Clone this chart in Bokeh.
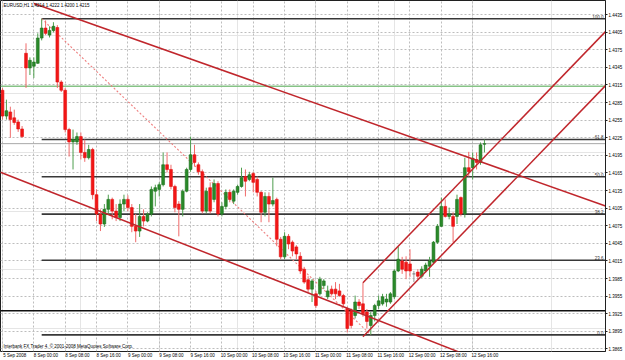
from bokeh.plotting import figure
from bokeh.models import Range1d, LinearAxis, FixedTicker, Grid, PrintfTickFormatter, Label
from bokeh.embed import file_html
from bokeh.resources import INLINE

# ---------------- data (EURUSD, H1) ----------------
bar_index = list(range(124))
open_ = [1.4306, 1.4262, 1.4269, 1.4259, 1.4252, 1.4240, 1.4369, 1.4344, 1.4347, 1.4352,
         1.4395, 1.4412, 1.4400, 1.4408, 1.4413, 1.4320, 1.4306, 1.4239, 1.4218, 1.4218,
         1.4227, 1.4200, 1.4191, 1.4205, 1.4128, 1.4095, 1.4078, 1.4103, 1.4120, 1.4100,
         1.4089, 1.4112, 1.4120, 1.4106, 1.4074, 1.4066, 1.4091, 1.4083, 1.4095, 1.4134,
         1.4137, 1.4145, 1.4179, 1.4171, 1.4142, 1.4112, 1.4103, 1.4134, 1.4171, 1.4196,
         1.4179, 1.4167, 1.4100, 1.4140, 1.4120, 1.4147, 1.4095, 1.4108, 1.4132, 1.4117,
         1.4132, 1.4142, 1.4159, 1.4154, 1.4164, 1.4154, 1.4132, 1.4098, 1.4125, 1.4112,
         1.4120, 1.4052, 1.4022, 1.4057, 1.4047, 1.4039, 1.4023, 1.4001, 1.3983, 1.3967,
         1.3959, 1.3959, 1.3973, 1.3954, 1.3967, 1.3967, 1.3964, 1.3956, 1.3934, 1.3930,
         1.3922, 1.3945, 1.3942, 1.3928, 1.3905, 1.3922, 1.3939, 1.3942, 1.3945, 1.3945,
         1.3954, 1.3998, 1.4015, 1.4013, 1.4010, 1.3993, 1.3996, 1.3989, 1.3998, 1.4006,
         1.4013, 1.4047, 1.4074, 1.4108, 1.4091, 1.4091, 1.4091, 1.4123, 1.4095, 1.4174,
         1.4174, 1.4188, 1.4183, 1.4214]
high = [1.4310, 1.4290, 1.4278, 1.4273, 1.4256, 1.4245, 1.4386, 1.4362, 1.4362, 1.4403,
        1.4428, 1.4425, 1.4415, 1.4422, 1.4417, 1.4323, 1.4310, 1.4242, 1.4239, 1.4234,
        1.4234, 1.4222, 1.4213, 1.4208, 1.4137, 1.4103, 1.4112, 1.4128, 1.4123, 1.4112,
        1.4120, 1.4128, 1.4127, 1.4112, 1.4095, 1.4112, 1.4103, 1.4098, 1.4142, 1.4145,
        1.4149, 1.4200, 1.4200, 1.4179, 1.4145, 1.4117, 1.4137, 1.4174, 1.4227, 1.4213,
        1.4183, 1.4171, 1.4140, 1.4149, 1.4154, 1.4151, 1.4115, 1.4137, 1.4137, 1.4137,
        1.4145, 1.4174, 1.4171, 1.4167, 1.4167, 1.4159, 1.4134, 1.4132, 1.4132, 1.4157,
        1.4123, 1.4056, 1.4064, 1.4061, 1.4050, 1.4042, 1.4030, 1.4005, 1.3989, 1.3984,
        1.3964, 1.3988, 1.3984, 1.3973, 1.3973, 1.3979, 1.3976, 1.3959, 1.3937, 1.3934,
        1.3956, 1.3950, 1.3978, 1.3933, 1.3928, 1.3942, 1.3956, 1.3959, 1.3959, 1.3962,
        1.4001, 1.4039, 1.4022, 1.4023, 1.4035, 1.3998, 1.4001, 1.4006, 1.4012, 1.4022,
        1.4049, 1.4078, 1.4123, 1.4120, 1.4106, 1.4098, 1.4128, 1.4125, 1.4191, 1.4201,
        1.4200, 1.4200, 1.4217, 1.4222]
low = [1.4256, 1.4256, 1.4225, 1.4247, 1.4235, 1.4225, 1.4310, 1.4332, 1.4327, 1.4351,
       1.4391, 1.4400, 1.4396, 1.4405, 1.4310, 1.4303, 1.4234, 1.4193, 1.4171, 1.4213,
       1.4188, 1.4184, 1.4188, 1.4120, 1.4083, 1.4066, 1.4073, 1.4095, 1.4086, 1.4083,
       1.4083, 1.4100, 1.4100, 1.4064, 1.4047, 1.4056, 1.4074, 1.4081, 1.4091, 1.4108,
       1.4125, 1.4142, 1.4166, 1.4137, 1.4098, 1.4057, 1.4091, 1.4132, 1.4167, 1.4176,
       1.4162, 1.4096, 1.4096, 1.4096, 1.4115, 1.4091, 1.4091, 1.4103, 1.4115, 1.4112,
       1.4128, 1.4140, 1.4125, 1.4151, 1.4132, 1.4125, 1.4081, 1.4091, 1.4081, 1.4108,
       1.4040, 1.4018, 1.4018, 1.4035, 1.4023, 1.4018, 1.3993, 1.3976, 1.3962, 1.3945,
       1.3935, 1.3956, 1.3967, 1.3950, 1.3956, 1.3950, 1.3954, 1.3937, 1.3893, 1.3900,
       1.3917, 1.3933, 1.3920, 1.3900, 1.3889, 1.3912, 1.3933, 1.3939, 1.3937, 1.3942,
       1.3950, 1.3996, 1.3993, 1.3984, 1.3988, 1.3979, 1.3984, 1.3986, 1.3995, 1.3988,
       1.4010, 1.4044, 1.4073, 1.4089, 1.4086, 1.4047, 1.4078, 1.4091, 1.4089, 1.4159,
       1.4154, 1.4171, 1.4179, 1.4200]
close = [1.4262, 1.4271, 1.4256, 1.4251, 1.4240, 1.4227, 1.4344, 1.4357, 1.4354, 1.4395,
         1.4412, 1.4403, 1.4408, 1.4415, 1.4320, 1.4306, 1.4239, 1.4218, 1.4222, 1.4227,
         1.4200, 1.4191, 1.4205, 1.4128, 1.4095, 1.4078, 1.4103, 1.4120, 1.4100, 1.4089,
         1.4112, 1.4120, 1.4106, 1.4074, 1.4066, 1.4091, 1.4083, 1.4095, 1.4137, 1.4140,
         1.4145, 1.4179, 1.4171, 1.4142, 1.4106, 1.4103, 1.4134, 1.4171, 1.4196, 1.4183,
         1.4167, 1.4100, 1.4134, 1.4100, 1.4147, 1.4095, 1.4108, 1.4132, 1.4120, 1.4134,
         1.4142, 1.4157, 1.4151, 1.4162, 1.4149, 1.4132, 1.4098, 1.4125, 1.4112, 1.4118,
         1.4052, 1.4022, 1.4057, 1.4044, 1.4032, 1.4027, 1.3998, 1.3979, 1.3967, 1.3981,
         1.3939, 1.3984, 1.3981, 1.3964, 1.3959, 1.3959, 1.3956, 1.3942, 1.3900, 1.3905,
         1.3945, 1.3939, 1.3925, 1.3912, 1.3922, 1.3939, 1.3947, 1.3954, 1.3950, 1.3959,
         1.3998, 1.4018, 1.4001, 1.3998, 1.3998, 1.3993, 1.3989, 1.4001, 1.4008, 1.4015,
         1.4047, 1.4074, 1.4108, 1.4091, 1.4095, 1.4074, 1.4120, 1.4095, 1.4174, 1.4167,
         1.4190, 1.4183, 1.4213, 1.4215]

time_ticks = [0, 8, 16, 24, 32, 40, 48, 56, 64, 72, 80, 88, 96, 104, 112, 120]
time_labels = ["5 Sep 2008", "8 Sep 00:00", "8 Sep 08:00", "8 Sep 16:00", "9 Sep 00:00",
               "9 Sep 08:00", "9 Sep 16:00", "10 Sep 00:00", "10 Sep 08:00", "10 Sep 16:00",
               "11 Sep 00:00", "11 Sep 08:00", "11 Sep 16:00", "12 Sep 00:00", "12 Sep 08:00",
               "12 Sep 16:00"]
price_ticks = [1.4435, 1.4405, 1.4375, 1.4345, 1.4315, 1.4285, 1.4255, 1.4225, 1.4195, 1.4165,
               1.4135, 1.4105, 1.4075, 1.4045, 1.4015, 1.3985, 1.3955, 1.3925, 1.3895, 1.3865]

# Fibonacci retracement (high bar -> low bar)
fib_high_bar, fib_high = 10, 1.4428
fib_low_bar, fib_low = 94, 1.3889
fib_ratios = [1.0, 0.618, 0.5, 0.382, 0.236, 0.0]
fib_names = ["100.0", "61.8", "50.0", "38.2", "23.6", "0.0"]

# trend lines: two anchor points each (bar, price), extended to the right
trend_x0 = [8, 0, 92, 92]
trend_p0 = [1.4454, 1.4165, 1.3978, 1.3886]
trend_x1 = [150, 100, 150, 150]
trend_p1 = [1.4118, 1.3903, 1.4379, 1.4287]
trend_extend_left = [False, True, False, False]

# horizontal lines
hline_prices = [1.4313, 1.4215, 1.3930]
hline_colors = ["#86C386", "#A8A8A8", "#111111"]
hline_widths = [1.5, 1, 1.5]
box_prices = [1.4313, 1.4215, 1.3930]
box_colors = ["#8CC88C", "#000000", "#000000"]

header_text = "EURUSD,H1  1.4214 1.4222 1.4200 1.4215"
copyright_text = "Interbank FX Trader 4, \u00a9 2001-2008 MetaQuotes Software Corp."

# ---------------- figure ----------------
X_LEFT, X_RIGHT = -0.51, 153.9
Y_BOTTOM, Y_TOP = 1.38607, 1.4459
FONT = "Liberation Sans"
FS = "4.5px"

p = figure(width=625, height=360, x_range=Range1d(X_LEFT, X_RIGHT), y_range=Range1d(Y_BOTTOM, Y_TOP),
           output_backend="svg", toolbar_location=None, x_axis_location=None, y_axis_location=None,
           min_border_left=0, min_border_top=0, min_border_right=18, min_border_bottom=7)
p.background_fill_color = "white"
p.border_fill_color = "white"
p.outline_line_color = "#202020"
p.outline_line_width = 1

# grids
p.add_layout(Grid(dimension=0, ticker=FixedTicker(ticks=time_ticks), grid_line_color="#BDBDBD",
                  grid_line_dash="2 2", grid_line_width=1))
p.add_layout(Grid(dimension=1, ticker=FixedTicker(ticks=price_ticks), grid_line_color="#BDBDBD",
                  grid_line_dash="2 2", grid_line_width=1))

# right price axis
yaxis = LinearAxis(ticker=FixedTicker(ticks=price_ticks), formatter=PrintfTickFormatter(format="%.4f"))
yaxis.major_label_text_font_size = FS
yaxis.major_label_text_font = FONT
yaxis.major_label_text_color = "#000000"
yaxis.major_tick_out = 2
yaxis.major_tick_in = 0
yaxis.minor_tick_out = 0
yaxis.minor_tick_in = 0
yaxis.major_label_standoff = 1
yaxis.axis_line_color = "#202020"
yaxis.major_tick_line_color = "#202020"
p.add_layout(yaxis, "right")

# bottom time axis (labels start at their tick, as in the terminal)
label_shift = 3.1
xaxis = LinearAxis(ticker=FixedTicker(ticks=[t + label_shift for t in time_ticks]),
                   major_label_overrides={t + label_shift: s for t, s in zip(time_ticks, time_labels)})
xaxis.major_label_text_font_size = FS
xaxis.major_label_text_font = FONT
xaxis.major_label_text_color = "#000000"
xaxis.major_tick_line_color = None
xaxis.minor_tick_line_color = None
xaxis.major_tick_out = 0
xaxis.major_tick_in = 0
xaxis.minor_tick_out = 0
xaxis.minor_tick_in = 0
xaxis.axis_line_color = None
xaxis.major_label_standoff = 1
p.add_layout(xaxis, "below")

# horizontal lines
for pr, col, w in zip(hline_prices, hline_colors, hline_widths):
    p.segment(x0=X_LEFT, y0=pr, x1=X_RIGHT, y1=pr, line_color=col, line_width=w)

# fibonacci levels
fib_levels = [fib_low + r * (fib_high - fib_low) for r in fib_ratios]
p.segment(x0=[fib_high_bar] * len(fib_levels), y0=fib_levels, x1=[X_RIGHT] * len(fib_levels), y1=fib_levels,
          line_color="#383838", line_width=1.6)
p.segment(x0=fib_high_bar, y0=fib_high, x1=fib_low_bar, y1=fib_low, line_color="#EE7F7F",
          line_width=1.1, line_dash="2 2")

# candles
bull_body, bear_body, doji_col = "#2A8A2A", "#F21616", "#888888"
body_fill, body_line, wick_col = [], [], []
for o, c in zip(open_, close):
    if c > o:
        body_fill.append(bull_body); body_line.append("#1E701E"); wick_col.append("#4E9E4E")
    elif c < o:
        body_fill.append(bear_body); body_line.append("#E01212"); wick_col.append("#F06A6A")
    else:
        body_fill.append(doji_col); body_line.append("#777777"); wick_col.append("#999999")
p.segment(x0=bar_index, y0=high, x1=bar_index, y1=low, line_color=wick_col, line_width=1)
p.vbar(x=bar_index, width=0.72, top=[max(o, c) for o, c in zip(open_, close)],
       bottom=[min(o, c) for o, c in zip(open_, close)], fill_color=body_fill, line_color=body_line,
       line_width=0.6)

# trend lines
for x0, p0, x1, p1, ext in zip(trend_x0, trend_p0, trend_x1, trend_p1, trend_extend_left):
    s = (p1 - p0) / (x1 - x0)
    xs = X_LEFT if ext else x0
    p.segment(x0=xs, y0=p0 + s * (xs - x0), x1=X_RIGHT, y1=p0 + s * (X_RIGHT - x0),
              line_color="#C0262C", line_width=1.5)

# fib level texts
for lvl, name in zip(fib_levels, fib_names):
    p.add_layout(Label(x=X_RIGHT, y=lvl, text=name, text_align="right", text_baseline="bottom",
                       x_offset=-2, y_offset=0, text_font_size=FS, text_font=FONT, text_color="#333333"))

# price boxes on the axis
for pr, col in zip(box_prices, box_colors):
    p.add_layout(Label(x=X_RIGHT, y=pr, text="%.4f" % pr, text_align="left", text_baseline="middle",
                       x_offset=2, text_font_size=FS, text_font=FONT, text_color="white",
                       background_fill_color=col))

# header and copyright
p.add_layout(Label(x=X_LEFT, y=Y_TOP, text=header_text, text_align="left", text_baseline="top",
                   x_offset=3, y_offset=-2, text_font_size=FS, text_font=FONT, text_color="#000000"))
p.add_layout(Label(x=X_LEFT, y=Y_BOTTOM, text=copyright_text, text_align="left", text_baseline="bottom",
                   x_offset=3, y_offset=3, text_font_size=FS, text_font=FONT, text_color="#000000"))

open("out.html", "w").write(file_html(p, INLINE))
